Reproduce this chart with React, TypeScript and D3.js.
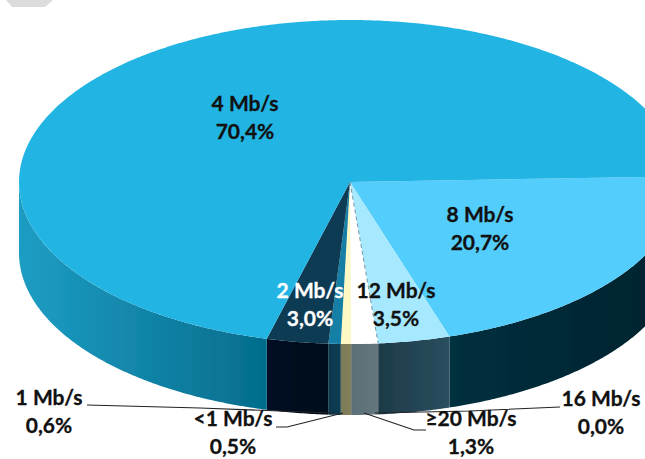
import React from "react";
import * as d3 from "d3";

// clockwise from the right-hand edge of the 8 Mb/s slice
const categories = ["8 Mb/s", "12 Mb/s", "≥20 Mb/s", "16 Mb/s", "<1 Mb/s", "1 Mb/s", "2 Mb/s", "4 Mb/s"];
const shares = [20.7, 3.5, 1.3, 0.0, 0.5, 0.6, 3.0, 70.4];
const shareLabels = ["20,7%", "3,5%", "1,3%", "0,0%", "0,5%", "0,6%", "3,0%", "70,4%"];

const topColors = ["#52cdfb", "#a6e9ff", "#ffffff", "#ffffff", "#fdf8c4", "#127fa6", "#0b3a52", "#23b5e3"];
const sideStops = [
  ["#02222e", "#02303f"],
  ["#2a4f5f", "#1d3a48"],
  ["#66767c", "#5b6f78"],
  ["#66767c", "#66767c"],
  ["#84805a", "#7a7a58"],
  ["#0b3c52", "#07384e"],
  ["#000a1c", "#010f22"],
  ["#046c8c", "#1e9dc4"],
];
const labelColors = ["#111", "#111", "#111", "#111", "#111", "#111", "#fff", "#111"];

const labelSpots: Record<string, [number, number]> = {
  "4 Mb/s": [245, 104],
  "8 Mb/s": [480, 215],
  "2 Mb/s": [310, 291],
  "12 Mb/s": [396, 291],
  "1 Mb/s": [49, 398],
  "<1 Mb/s": [233, 419],
  "≥20 Mb/s": [471, 419],
  "16 Mb/s": [601, 399],
};

const leaders: [number, number][][] = [
  [[87, 405], [200, 408], [334, 413]],
  [[276, 427], [287, 427], [343, 413]],
  [[364, 413], [414, 430], [426, 430]],
  [[560, 407], [470, 411], [375, 413]],
];

const W = 645;
const H = 459;
const cx = 350;
const cy = 182;
const rx = 331;
const ry = 162;
const depth = 71;
const rad = Math.PI / 180;

const pie = d3
  .pie<number>()
  .sort(null)
  .value((d) => d)
  .startAngle(88 * rad)
  .endAngle(448 * rad);

const px = (a: number) => cx + rx * Math.sin(a);
const py = (a: number) => cy - ry * Math.cos(a);
const line = d3.line<[number, number]>();

function arcPoints(a0: number, a1: number, dy = 0): [number, number][] {
  const n = Math.max(2, Math.ceil(Math.abs(a1 - a0) / (0.5 * rad)));
  return d3.range(n + 1).map((i) => {
    const a = a0 + ((a1 - a0) * i) / n;
    return [px(a), py(a) + dy] as [number, number];
  });
}

export default function App() {
  const arcs = pie(shares);

  return (
    <svg
      width={W}
      height={H}
      viewBox={`0 0 ${W} ${H}`}
      style={{ position: "absolute", left: 0, top: 0, background: "#fff" }}
      fontFamily="Lato, 'Open Sans', sans-serif"
    >
      <defs>
        <filter id="soft" x="-5%" y="-5%" width="110%" height="110%">
          <feGaussianBlur stdDeviation="0.45" />
        </filter>
        {arcs.map((d, i) => {
          const a0 = Math.max(d.startAngle, 90 * rad);
          const a1 = Math.min(d.endAngle, 270 * rad);
          return (
            <linearGradient
              key={i}
              id={`side${i}`}
              gradientUnits="userSpaceOnUse"
              x1={px(a0)}
              x2={px(a1)}
              y1={0}
              y2={0}
            >
              <stop offset="0" stopColor={sideStops[i][0]} />
              <stop offset="1" stopColor={sideStops[i][1]} />
            </linearGradient>
          );
        })}
      </defs>

      <path d="M6,0 L53,0 L45,7 L12,7 Z" fill="#dcdcdc" />

      <g filter="url(#soft)">
        {arcs.map((d, i) => {
          const a0 = Math.max(d.startAngle, 90 * rad);
          const a1 = Math.min(d.endAngle, 270 * rad);
          if (a1 <= a0) return null;
          const pts = [...arcPoints(a0, a1), ...arcPoints(a1, a0, depth)];
          return <path key={i} d={line(pts) + "Z"} fill={`url(#side${i})`} />;
        })}
        {arcs.map((d, i) => {
          if (d.endAngle === d.startAngle) return null;
          const pts: [number, number][] = [[cx, cy], ...arcPoints(d.startAngle, d.endAngle)];
          return <path key={i} d={line(pts) + "Z"} fill={topColors[i]} />;
        })}
        {/* thin seam between the 12 Mb/s and the white slice */}
        <path
          d={line([[cx, cy], [px(arcs[1].endAngle), py(arcs[1].endAngle)]]) ?? ""}
          stroke="#3f6f85"
          strokeWidth={0.7}
          strokeDasharray="4 3"
          fill="none"
        />
      </g>

      {leaders.map((l, i) => (
        <path key={i} d={line(l) ?? ""} fill="none" stroke="#222" strokeWidth={1.1} />
      ))}

      {categories.map((c, i) => {
        const [x, y] = labelSpots[c];
        return (
          <g
            key={c}
            textAnchor="middle"
            fontWeight={700}
            fontSize={21}
            fill={labelColors[i]}
            stroke={labelColors[i]}
            strokeWidth={0.3}
          >
            <text x={x} y={y + 7}>{c}</text>
            <text x={x} y={y + 35}>{shareLabels[i]}</text>
          </g>
        );
      })}
    </svg>
  );
}
